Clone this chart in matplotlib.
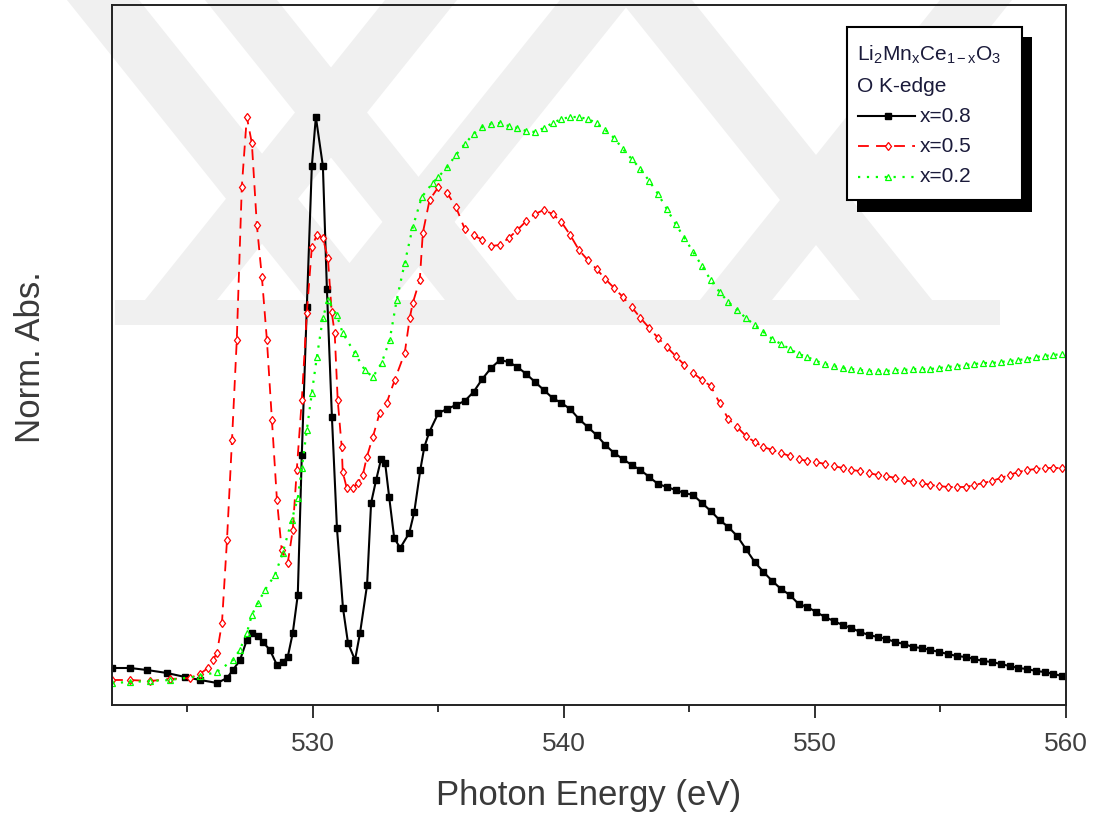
import matplotlib
matplotlib.use('Agg')
import matplotlib.pyplot as plt
from matplotlib.patches import Rectangle, Polygon
from matplotlib.lines import Line2D

plt.rcParams['font.family'] = ['Liberation Sans', 'DejaVu Sans']
plt.rcParams['mathtext.fontset'] = 'custom'
plt.rcParams['mathtext.rm'] = 'Liberation Sans'
plt.rcParams['mathtext.it'] = 'Liberation Sans:italic'
plt.rcParams['mathtext.default'] = 'regular'

# 데이터
# 535 eV 이후 공통 에너지 축
e_tail = [535.00, 535.35, 535.70, 536.05, 536.40, 536.75, 537.10, 537.45, 537.80, 538.15,
          538.50, 538.85, 539.20, 539.55, 539.90, 540.25, 540.60, 540.95, 541.30, 541.65,
          542.00, 542.35, 542.70, 543.05, 543.40, 543.75, 544.10, 544.45, 544.80, 545.15,
          545.50, 545.85, 546.20, 546.55, 546.90, 547.25, 547.60, 547.95, 548.30, 548.65,
          549.00, 549.35, 549.70, 550.05, 550.40, 550.75, 551.10, 551.45, 551.80, 552.15,
          552.50, 552.85, 553.20, 553.55, 553.90, 554.25, 554.60, 554.95, 555.30, 555.65,
          556.00, 556.35, 556.70, 557.05, 557.40, 557.75, 558.10, 558.45, 558.80, 559.15,
          559.50, 559.85]

# x=0.8
e_08_head = [522.00, 522.72, 523.39, 524.19, 524.91, 525.51, 526.19, 526.58, 526.82, 527.10,
             527.37, 527.57, 527.81, 528.01, 528.29, 528.57, 528.80, 529.00, 529.20, 529.40,
             529.56, 529.76, 529.96, 530.12, 530.40, 530.56, 530.76, 530.96, 531.20, 531.40,
             531.68, 531.88, 532.16, 532.32, 532.52, 532.72, 532.88, 533.04, 533.24, 533.48,
             533.84, 534.04, 534.28, 534.44, 534.64]
i_08_head = [0.37, 0.37, 0.35, 0.32, 0.28, 0.25, 0.22, 0.27, 0.35, 0.45,
             0.65, 0.72, 0.69, 0.63, 0.55, 0.40, 0.43, 0.48, 0.72, 1.10,
             2.50, 3.98, 5.39, 5.88, 5.39, 4.16, 2.88, 1.77, 0.97, 0.62,
             0.45, 0.72, 1.20, 2.02, 2.25, 2.46, 2.42, 2.08, 1.67, 1.57,
             1.72, 1.93, 2.35, 2.58, 2.73]
i_08_tail = [2.92, 2.96, 3.00, 3.04, 3.13, 3.26, 3.37, 3.45, 3.43, 3.38,
             3.31, 3.23, 3.15, 3.07, 3.02, 2.96, 2.86, 2.78, 2.70, 2.60,
             2.52, 2.46, 2.40, 2.35, 2.28, 2.21, 2.18, 2.15, 2.12, 2.10,
             2.02, 1.94, 1.85, 1.78, 1.69, 1.56, 1.43, 1.33, 1.24, 1.16,
             1.10, 1.01, 0.98, 0.93, 0.88, 0.84, 0.80, 0.77, 0.73, 0.70,
             0.68, 0.66, 0.63, 0.61, 0.58, 0.57, 0.55, 0.53, 0.51, 0.49,
             0.48, 0.46, 0.44, 0.43, 0.41, 0.39, 0.37, 0.36, 0.34, 0.33,
             0.31, 0.29]

# x=0.5
e_05_head = [522.00, 522.72, 523.51, 524.31, 525.10, 525.50, 525.82, 526.02, 526.18, 526.38,
             526.58, 526.78, 526.97, 527.17, 527.37, 527.57, 527.77, 527.97, 528.17, 528.37,
             528.57, 528.76, 529.00, 529.20, 529.36, 529.56, 529.76, 529.96, 530.16, 530.40,
             530.60, 530.75, 530.87, 530.99, 531.15, 531.19, 531.35, 531.59, 531.79, 531.99,
             532.15, 532.39, 532.66, 532.94, 533.26, 533.66, 533.86, 533.98, 534.26, 534.38,
             534.65]
i_05_head = [0.25, 0.25, 0.24, 0.26, 0.27, 0.31, 0.37, 0.45, 0.52, 0.82,
             1.65, 2.65, 3.65, 5.18, 5.88, 5.62, 4.80, 4.28, 3.65, 2.85,
             2.05, 1.55, 1.42, 1.75, 2.35, 3.05, 3.92, 4.58, 4.70, 4.67,
             4.47, 3.93, 3.72, 3.05, 2.58, 2.33, 2.17, 2.17, 2.22, 2.30,
             2.48, 2.68, 2.92, 3.02, 3.25, 3.52, 3.87, 4.02, 4.25, 4.72,
             5.05]
i_05_tail = [5.18, 5.12, 4.98, 4.76, 4.70, 4.65, 4.59, 4.60, 4.67, 4.75,
             4.84, 4.91, 4.95, 4.91, 4.83, 4.70, 4.55, 4.45, 4.36, 4.26,
             4.17, 4.08, 3.98, 3.87, 3.77, 3.67, 3.58, 3.49, 3.40, 3.32,
             3.25, 3.19, 3.02, 2.86, 2.78, 2.69, 2.63, 2.58, 2.55, 2.52,
             2.49, 2.46, 2.44, 2.43, 2.41, 2.39, 2.37, 2.35, 2.34, 2.32,
             2.30, 2.29, 2.27, 2.25, 2.23, 2.22, 2.20, 2.19, 2.18, 2.18,
             2.18, 2.20, 2.22, 2.24, 2.27, 2.30, 2.33, 2.35, 2.36, 2.37,
             2.37, 2.37]

# x=0.2
e_02_head = [522.00, 522.72, 523.51, 524.31, 525.50, 526.18, 526.82, 527.09, 527.37, 527.57,
             527.81, 528.09, 528.49, 528.80, 529.16, 529.40, 529.56, 529.76, 529.96, 530.16,
             530.40, 530.60, 530.95, 531.19, 531.67, 532.07, 532.39, 532.74, 533.06, 533.34,
             533.66, 533.98, 534.34, 534.77]
i_02_head = [0.22, 0.23, 0.24, 0.25, 0.29, 0.33, 0.45, 0.55, 0.72, 0.90,
             1.02, 1.15, 1.30, 1.52, 1.85, 2.07, 2.37, 2.75, 3.12, 3.48,
             3.87, 4.05, 3.90, 3.72, 3.52, 3.35, 3.28, 3.42, 3.65, 4.05,
             4.42, 4.78, 5.08, 5.22]
i_02_tail = [5.28, 5.38, 5.50, 5.61, 5.71, 5.78, 5.81, 5.82, 5.79, 5.77,
             5.74, 5.73, 5.77, 5.82, 5.86, 5.88, 5.88, 5.86, 5.82, 5.75,
             5.67, 5.56, 5.46, 5.36, 5.24, 5.11, 4.96, 4.81, 4.67, 4.53,
             4.39, 4.25, 4.13, 4.03, 3.95, 3.87, 3.80, 3.73, 3.66, 3.61,
             3.56, 3.51, 3.48, 3.44, 3.41, 3.39, 3.37, 3.36, 3.35, 3.34,
             3.34, 3.34, 3.35, 3.35, 3.36, 3.36, 3.36, 3.37, 3.38, 3.39,
             3.40, 3.41, 3.42, 3.42, 3.43, 3.44, 3.45, 3.46, 3.48, 3.49,
             3.50, 3.51]

labels = ['x=0.8', 'x=0.5', 'x=0.2']
legend_title = ['Li$_2$Mn$_x$Ce$_{1-x}$O$_3$', 'O K-edge']

W, H = 1096, 818
fig = plt.figure(figsize=(W / 100, H / 100), dpi=100)


def fp(x, y):
    # 픽셀 좌표 -> figure 좌표
    return x / W, 1 - y / H


# 배경 워터마크 (옅은 회색 띠)
wm = '#f0f0f0'
def band(x0, slope, w, y0=0, y1=325):
    pts = [fp(x0, y0), fp(x0 + w, y0), fp(x0 + w + slope * (y1 - y0), y1),
           fp(x0 + slope * (y1 - y0), y1)]
    fig.patches.append(Polygon(pts, closed=True, transform=fig.transFigure,
                               fc=wm, ec='none', zorder=-5))

for x0 in [67, 205, 620]:
    band(x0, 0.8, 72)
for x0 in [385, 560, 940]:
    band(x0, -0.8, 72)
fig.patches.append(Rectangle(fp(115, 325), 885 / W, 25 / H, transform=fig.transFigure,
                             fc=wm, ec='none', zorder=-5))

ax = fig.add_axes([112 / W, 1 - 705 / H, 954 / W, 700 / H])
ax.set_facecolor('none')

style_08 = dict(color='black', lw=1.5, ls='-', marker='s', ms=3.8, mfc='black', mec='black', mew=1)
style_05 = dict(color='red', lw=1.3, ls=(0, (6, 4)), marker='d', ms=4.5, mfc='white', mec='red', mew=0.9)
style_02 = dict(color='#00ff00', lw=1.6, ls=(0, (1, 3)), marker='^', ms=4.5, mfc='none',
                mec='#00ff00', mew=0.9)

ax.plot(e_08_head + e_tail, i_08_head + i_08_tail, **style_08)
ax.plot(e_05_head + e_tail, i_05_head + i_05_tail, **style_05)
ax.plot(e_02_head + e_tail, i_02_head + i_02_tail, **style_02)

ax.set_xlim(522, 560)
ax.set_ylim(0, 7)
ax.set_xticks([530, 540, 550, 560])
ax.set_xticks([525, 535, 545, 555], minor=True)
ax.set_yticks([])
ax.tick_params(axis='x', which='major', direction='out', length=9.5, width=1.3,
               labelsize=19, labelcolor='#404040', pad=10, color='#222222')
ax.tick_params(axis='x', which='minor', direction='out', length=5, width=1.3, color='#222222')
for s in ax.spines.values():
    s.set_linewidth(1.4)
    s.set_color('#222222')

# 축제목
fig.text(*fp(589, 795), 'Photon Energy (eV)', fontsize=25, color='#3a3a3a',
         ha='center', va='center')
fig.text(*fp(30, 357), 'Norm. Abs.', fontsize=25, color='#3a3a3a',
         ha='center', va='center', rotation=90)

# 범례 (그림자 상자)
fig.patches.append(Rectangle(fp(857, 212), 175 / W, 175 / H, transform=fig.transFigure,
                             fc='black', ec='none', zorder=5))
fig.patches.append(Rectangle(fp(847, 200), 175 / W, 173 / H, transform=fig.transFigure,
                             fc='white', ec='black', lw=1.5, zorder=6))
fig.text(*fp(857, 55), legend_title[0], fontsize=15, color='#1a1a3a', va='center', zorder=7)
fig.text(*fp(857, 87), legend_title[1], fontsize=15, color='#1a1a3a', va='center', zorder=7)

for lab, st, yy in zip(labels, [style_08, style_05, style_02], [116, 146, 177]):
    x1, y1 = fp(858, yy)
    x2, _ = fp(915, yy)
    xm, _ = fp(888, yy)
    fig.add_artist(Line2D([x1, x2], [y1, y1], transform=fig.transFigure, zorder=7,
                          color=st['color'], lw=st['lw'], ls=st['ls']))
    fig.add_artist(Line2D([xm], [y1], transform=fig.transFigure, ls='none', zorder=8,
                          marker=st['marker'], ms=st['ms'], mfc=st['mfc'], mec=st['mec'],
                          mew=st['mew']))
    fig.text(*fp(920, yy), lab, fontsize=15, color='#1a1a3a', va='center', zorder=7)

fig.savefig('out.png', dpi=100)
